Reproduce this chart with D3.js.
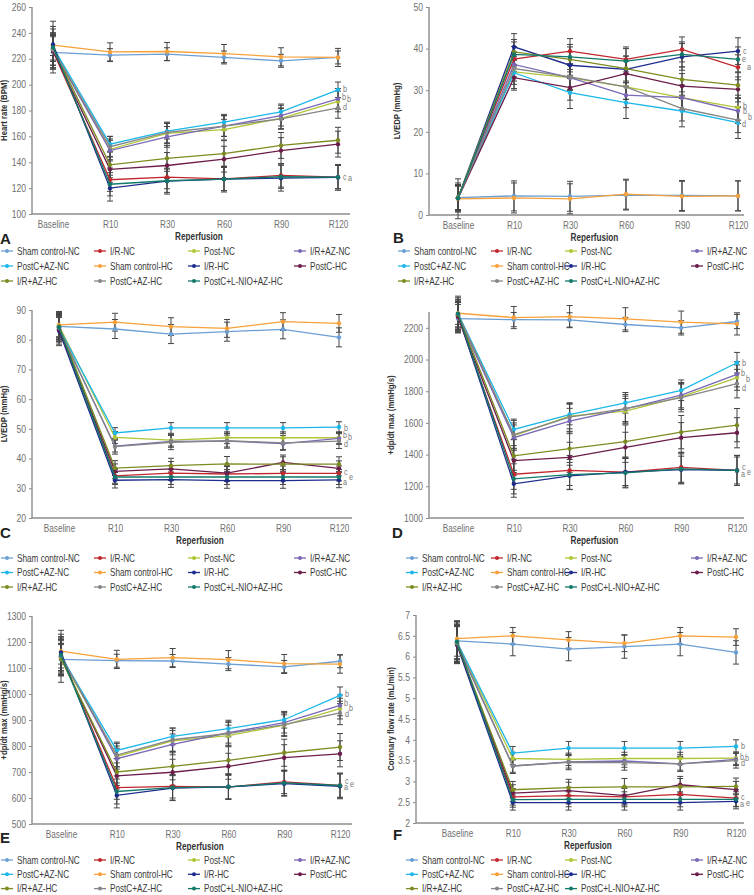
<!DOCTYPE html>
<html>
<head>
<meta charset="utf-8">
<script src="https://cdn.jsdelivr.net/npm/d3@7"></script>
<style>
  body { margin: 0; background: #fff; }
  svg text { font-family: "Liberation Sans", Arial, sans-serif; }
</style>
</head>
<body>
<div id="content"></div>
<script>
'use strict';
//////////////////// input data
const timePoints = ["Baseline", "R10", "R30", "R60", "R90", "R120"];
const groups = ["Sham control-NC", "I/R-NC", "Post-NC", "I/R+AZ-NC", "PostC+AZ-NC", "Sham control-HC",
                "I/R-HC", "PostC-HC", "I/R+AZ-HC", "PostC+AZ-HC", "PostC+L-NIO+AZ-HC"];
const groupColors = ["#6b9fd3", "#c1272d", "#b2c437", "#7a67b6", "#1cb7e8", "#f6a13a",
                     "#1d2c8c", "#6c1d4b", "#7d8b21", "#858585", "#12786a"];

// A: heart rate (BPM)
const heartRate = [
  [225, 222.8, 223.5, 221, 218.4, 221],
  [226, 126.5, 128.5, 127.2, 129.8, 128.5],
  [228, 150, 162.4, 165.2, 174, 187],
  [227, 149, 159.6, 168, 176, 189],
  [229, 154, 164, 171, 179, 196],
  [230.5, 225.3, 225.6, 224, 221.5, 221],
  [231, 120, 125.4, 127, 127.7, 128.3],
  [226, 134.5, 137.5, 142.4, 149, 154],
  [228, 138, 143, 146.7, 153, 157],
  [227, 152, 163, 168, 173.5, 182],
  [229, 123, 125.7, 127, 128.8, 128.5]
];
const heartRateBaseSD = [12, 14, 10, 12, 20, 8, 12, 14, 10, 12, 16];
const heartRateSD = [5, 9, 8, 8, 6, 7, 10, 10, 10, 8, 9];

// B: LVEDP (mmHg)
const lvedp = [
  [4.2, 4.6, 4.5, 4.8, 4.7, 4.6],
  [4.1, 37.5, 39.4, 37.4, 39.8, 35.5],
  [4.3, 34.4, 33, 30.8, 28.2, 25.8],
  [4.0, 36.2, 33, 28.8, 28.2, 25],
  [4.2, 34.2, 29.4, 27, 25, 22.2],
  [3.9, 4.1, 3.9, 5, 4.5, 4.6],
  [4.1, 40.4, 36, 35, 38, 39.4],
  [4.0, 33, 30.6, 34, 31, 30.2],
  [4.2, 39.2, 37.4, 35.2, 32.6, 31.2],
  [4.1, 35.2, 33.2, 30.8, 25.6, 22.8],
  [4.0, 38.6, 38, 37, 38.6, 37.4]
];
const lvedpBaseSD = [3.5, 3, 3, 3, 3, 4.8, 3, 3, 3, 3, 3];
const lvedpSD = [3.6, 3, 3, 3, 3.8, 3.6, 3.2, 3, 3, 3, 3];

// C: LVDP (mmHg)
const lvdp = [
  [84.5, 83.6, 81.9, 82.7, 83.5, 80.8],
  [84, 34.2, 35.1, 34.8, 35, 35],
  [84.8, 47.1, 46.2, 47, 47, 47],
  [83.5, 44.2, 45.8, 45.9, 45, 46.8],
  [84, 48.6, 50.3, 50.3, 50.3, 50.6],
  [85, 85.9, 84.4, 83.8, 86.1, 85.5],
  [83, 32.7, 32.9, 32.6, 32.6, 32.8],
  [83.5, 35.7, 36.5, 35.1, 38.7, 36.7],
  [84.5, 36.8, 37.6, 38.2, 38.1, 38.1],
  [84, 44, 45.5, 46, 45.3, 45.9],
  [84.2, 33.8, 33.8, 33.8, 33.8, 33.8]
];
const lvdpBaseSD = [5, 4, 4, 5, 4, 4, 5, 4, 4, 4, 5];
const lvdpSD = [3.2, 2.5, 2, 2, 1.8, 3, 2.6, 2.5, 2.5, 2.5, 2.5];

// D: +dp/dt max (mmHg/s)
const dpdtUp = [
  [2258, 2252, 2250, 2221, 2200, 2240],
  [2270, 1276, 1300, 1290, 1320, 1300],
  [2285, 1520, 1643, 1674, 1765, 1886],
  [2275, 1507, 1612, 1689, 1775, 1907],
  [2290, 1559, 1653, 1727, 1806, 1980],
  [2292, 2265, 2271, 2257, 2236, 2225],
  [2280, 1216, 1266, 1290, 1305, 1300],
  [2270, 1362, 1383, 1446, 1507, 1538],
  [2285, 1392, 1438, 1482, 1542, 1586],
  [2288, 1526, 1637, 1690, 1760, 1848],
  [2290, 1247, 1274, 1285, 1310, 1300]
];
const dpdtUpBaseSD = [90, 100, 80, 90, 110, 70, 100, 90, 80, 90, 100];
const dpdtUpSD = [45, 95, 80, 80, 65, 70, 85, 95, 105, 90, 95];

// E: +dp/dt max (mmHg/s), second measure
const dpdtDown = [
  [1133, 1128, 1127, 1115, 1104, 1126],
  [1150, 640, 645, 642, 662, 648],
  [1140, 760, 820, 840, 880, 944],
  [1150, 751, 806, 851, 890, 956],
  [1145, 783, 837, 867, 901, 995],
  [1165, 1133, 1140, 1132, 1117, 1115],
  [1160, 610, 638, 643, 655, 645],
  [1140, 685, 699, 722, 755, 770],
  [1135, 700, 722, 745, 774, 796],
  [1145, 765, 824, 848, 882, 927],
  [1150, 625, 640, 643, 658, 648]
];
const dpdtDownBaseSD = [60, 70, 50, 60, 100, 50, 60, 70, 60, 60, 80];
const dpdtDownSD = [25, 45, 40, 40, 32, 35, 48, 50, 52, 45, 48];

// F: coronary flow rate (mL/min)
const coronaryFlow = [
  [6.38, 6.3, 6.18, 6.24, 6.3, 6.1],
  [6.33, 2.63, 2.66, 2.63, 2.69, 2.6],
  [6.35, 3.55, 3.53, 3.55, 3.55, 3.56],
  [6.3, 3.37, 3.47, 3.49, 3.42, 3.53],
  [6.35, 3.68, 3.8, 3.8, 3.8, 3.84],
  [6.43, 6.5, 6.4, 6.32, 6.5, 6.47],
  [6.28, 2.49, 2.49, 2.49, 2.49, 2.52],
  [6.3, 2.72, 2.78, 2.66, 2.92, 2.8],
  [6.32, 2.8, 2.85, 2.87, 2.87, 2.88],
  [6.33, 3.37, 3.46, 3.45, 3.42, 3.5],
  [6.36, 2.56, 2.57, 2.57, 2.57, 2.57]
];
const coronaryFlowBaseSD = [0.45, 0.45, 0.4, 0.45, 0.5, 0.42, 0.45, 0.45, 0.4, 0.45, 0.5];
const coronaryFlowSD = [0.28, 0.2, 0.15, 0.15, 0.16, 0.2, 0.18, 0.2, 0.2, 0.18, 0.18];

// significance letters beside R120: [letter, value]
const heartRateMarks = [["b", 196.6], ["b", 190.4], ["b", 188.9], ["d", 182.7], ["c", 128.9], ["a", 127.8]];
const lvedpMarks = [["c", 39.4], ["e", 37.5], ["a", 35.6], ["b", 26.2], ["b", 25], ["b", 23.6], ["d", 21.9]];
const lvdpMarks = [["b", 50.3], ["b", 47.9], ["b", 47.3], ["d", 44.9], ["c", 35.5], ["e", 33.8], ["a", 32]];
const dpdtUpMarks = [["b", 1980], ["b", 1917], ["b", 1875], ["d", 1823], ["c", 1320], ["e", 1289], ["a", 1278]];
const dpdtDownMarks = [["b", 1000], ["b", 965], ["b", 946], ["d", 923], ["c", 665], ["e", 654], ["a", 642]];
const coronaryFlowMarks = [["b", 3.85], ["b", 3.59], ["b", 3.56], ["d", 3.44], ["c", 2.63], ["e", 2.48], ["a", 2.46]];

//////////////////// panel layout
const W = 754, H = 895;
const markDx = [5, 4, 9, 5, 5, 10, 4];

const panels = [
  { id: "A", values: heartRate, baseSD: heartRateBaseSD, sd: heartRateSD, marks: heartRateMarks,
    title: "Heart rate (BPM)", domain: [100, 260], ticks: d3.range(100, 261, 20),
    axisX: 32, top: 7, bottom: 214, x0: 53, x1: 338, right: 350, titleX: 4,
    legendX: [17, 110, 204, 310], legendY: 251, rowGap: 15, letterX: 0, letterY: 244 },
  { id: "B", values: lvedp, baseSD: lvedpBaseSD, sd: lvedpSD, marks: lvedpMarks,
    title: "LVEDP (mmHg)", domain: [0, 50], ticks: d3.range(0, 51, 10),
    axisX: 429, top: 7, bottom: 215, x0: 458, x1: 738, right: 744, titleX: 397,
    legendX: [414, 507, 581, 707], legendY: 251, rowGap: 15, letterX: 393, letterY: 243 },
  { id: "C", values: lvdp, baseSD: lvdpBaseSD, sd: lvdpSD, marks: lvdpMarks,
    title: "LVEDP (mmHg)", domain: [20, 90], ticks: d3.range(20, 91, 10),
    axisX: 32, top: 310, bottom: 518, x0: 59, x1: 339, right: 352, titleX: 4,
    legendX: [17, 110, 204, 310], legendY: 558, rowGap: 14.5, letterX: 0, letterY: 538 },
  { id: "D", values: dpdtUp, baseSD: dpdtUpBaseSD, sd: dpdtUpSD, marks: dpdtUpMarks,
    title: "+dp/dt max (mmHg/s)", domain: [1000, 2300], ticks: d3.range(1000, 2201, 200),
    axisX: 429, top: 312, bottom: 518, x0: 458, x1: 737, right: 744, titleX: 391,
    legendX: [422, 507, 581, 707], legendY: 558, rowGap: 14.5, letterX: 392, letterY: 538 },
  { id: "E", values: dpdtDown, baseSD: dpdtDownBaseSD, sd: dpdtDownSD, marks: dpdtDownMarks,
    title: "+dp/dt max (mmHg/s)", domain: [500, 1300], ticks: d3.range(500, 1301, 100),
    axisX: 32, top: 616, bottom: 824, x0: 61, x1: 340, right: 352, titleX: 4,
    legendX: [17, 110, 204, 310], legendY: 860, rowGap: 14.3, letterX: 0, letterY: 843 },
  { id: "F", values: coronaryFlow, baseSD: coronaryFlowBaseSD, sd: coronaryFlowSD, marks: coronaryFlowMarks,
    title: "Coronary flow rate (mL/min)", domain: [2, 7], ticks: d3.range(2, 7.01, 0.5),
    axisX: 416, top: 615, bottom: 823, x0: 457, x1: 736, right: 744, titleX: 391,
    legendX: [422, 507, 581, 707], legendY: 860, rowGap: 14.3, letterX: 393, letterY: 840 }
];

// squeeze text horizontally to get a condensed face from Liberation Sans
function narrow(sel, sx) {
  sel.each(function () {
    const t = d3.select(this);
    const tx = +t.attr("x") || 0, ty = +t.attr("y") || 0;
    t.attr("x", 0).attr("y", 0)
     .attr("transform", "translate(" + tx + "," + ty + ") scale(" + sx + ",1)");
  });
}

const svg = d3.select("#content")
  .append("svg")
    .attr("width", W)
    .attr("height", H);

svg.append("rect").attr("width", W).attr("height", H).attr("fill", "#fff");

panels.forEach(p => {
  const g = svg.append("g");
  const x = d3.scalePoint().domain(timePoints).range([p.x0, p.x1]);
  const y = d3.scaleLinear().domain(p.domain).range([p.bottom, p.top]);

  // y axis
  const yAxis = g.append("g")
    .attr("transform", "translate(" + p.axisX + ",0)")
    .call(d3.axisLeft(y).tickValues(p.ticks).tickSize(3).tickSizeOuter(0).tickPadding(3)
      .tickFormat(d3.format("~g")));
  yAxis.select(".domain").attr("stroke", "#8c8c8c").attr("stroke-width", 1.4)
    .attr("d", "M0," + p.top + "V" + p.bottom);
  yAxis.selectAll(".tick line").attr("stroke", "#8c8c8c");
  yAxis.selectAll(".tick text").attr("fill", "#707070").style("font-size", "10px")
    .call(narrow, 0.86);

  // x axis
  const xAxis = g.append("g")
    .attr("transform", "translate(0," + p.bottom + ")")
    .call(d3.axisBottom(x).tickSize(0).tickPadding(7));
  xAxis.select(".domain").remove();
  xAxis.selectAll(".tick text").attr("fill", "#707070").style("font-size", "10px")
    .call(narrow, 0.82);
  g.append("line")
    .attr("x1", p.axisX).attr("x2", p.right)
    .attr("y1", p.bottom).attr("y2", p.bottom)
    .attr("stroke", "#8c8c8c").attr("stroke-width", 1.4);

  g.append("text")
    .attr("x", (p.axisX + p.right) / 2 + 8).attr("y", p.bottom + 26)
    .attr("text-anchor", "middle")
    .style("font-size", "10px").style("font-weight", "bold").attr("fill", "#333")
    .text("Reperfusion")
    .call(narrow, 0.82);

  g.append("text")
    .attr("transform", "translate(" + p.titleX + "," + ((p.top + p.bottom) / 2) + ") rotate(-90) scale(0.82,1)")
    .attr("text-anchor", "middle").attr("dy", "0.35em")
    .style("font-size", "9.5px").style("font-weight", "bold").attr("fill", "#333")
    .text(p.title);

  g.append("text")
    .attr("x", p.letterX).attr("y", p.letterY)
    .style("font-size", "15px").style("font-weight", "bold").attr("fill", "#222")
    .text(p.id);

  // error bars
  const eb = g.append("g").attr("stroke", "#454545").attr("stroke-width", 1);
  p.values.forEach((vals, gi) => {
    vals.forEach((v, ti) => {
      const s = ti === 0 ? p.baseSD[gi] : p.sd[gi];
      const cx = x(timePoints[ti]);
      const yHi = y(v + s), yLo = y(v - s);
      eb.append("line").attr("x1", cx).attr("x2", cx).attr("y1", yHi).attr("y2", yLo);
      eb.append("line").attr("x1", cx - 3).attr("x2", cx + 3).attr("y1", yHi).attr("y2", yHi);
      eb.append("line").attr("x1", cx - 3).attr("x2", cx + 3).attr("y1", yLo).attr("y2", yLo);
    });
  });

  // lines + markers
  const line = d3.line().x((d, i) => x(timePoints[i])).y(d => y(d));
  p.values.forEach((vals, gi) => {
    g.append("path")
      .attr("d", line(vals))
      .attr("fill", "none")
      .attr("stroke", groupColors[gi])
      .attr("stroke-width", 1.3);
    g.selectAll(null)
      .data(vals)
      .enter()
      .append("circle")
      .attr("cx", (d, i) => x(timePoints[i]))
      .attr("cy", d => y(d))
      .attr("r", 2.2)
      .attr("fill", groupColors[gi]);
  });

  // significance letters
  g.selectAll(".mark")
    .data(p.marks)
    .enter()
    .append("text")
    .attr("x", (d, i) => p.x1 + markDx[i % markDx.length])
    .attr("y", d => y(d[1]))
    .attr("dy", "0.35em")
    .style("font-size", "8.5px").attr("fill", "#777")
    .text(d => d[0])
    .call(narrow, 0.85);

  // legend
  groups.forEach((name, gi) => {
    const col = gi % 4, row = Math.floor(gi / 4);
    const tx = p.legendX[col], ty = p.legendY + row * p.rowGap;
    g.append("line")
      .attr("x1", tx - 16).attr("x2", tx - 4).attr("y1", ty).attr("y2", ty)
      .attr("stroke", groupColors[gi]).attr("stroke-width", 1.3);
    g.append("circle").attr("cx", tx - 10).attr("cy", ty).attr("r", 2).attr("fill", groupColors[gi]);
    g.append("text")
      .attr("x", tx).attr("y", ty).attr("dy", "0.35em")
      .style("font-size", "10px").attr("fill", "#3a3a3a")
      .text(name)
      .call(narrow, 0.82);
  });
});
</script>
</body>
</html>
